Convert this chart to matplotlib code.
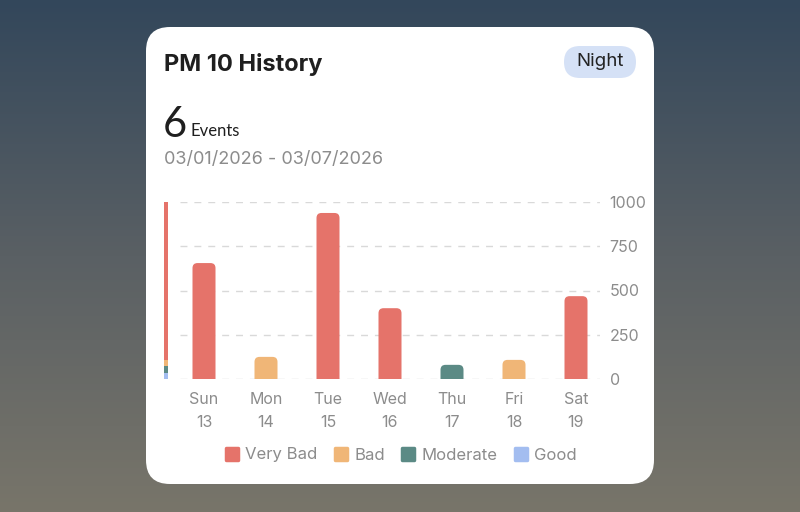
import numpy as np
import matplotlib
matplotlib.use("Agg")
from matplotlib import pyplot as plt
from matplotlib.patches import FancyBboxPatch
from matplotlib.lines import Line2D
from matplotlib.markers import MarkerStyle
from matplotlib.colors import LinearSegmentedColormap

# data
days = ["Sun", "Mon", "Tue", "Wed", "Thu", "Fri", "Sat"]
dates = ["13", "14", "15", "16", "17", "18", "19"]
values = [655, 125, 938, 400, 80, 108, 468]
levels = ["Very Bad", "Bad", "Very Bad", "Very Bad", "Moderate", "Bad", "Very Bad"]

# thin scale bar on the left (stacked from bottom)
scale_levels = ["Good", "Moderate", "Bad", "Very Bad"]
scale_values = [35, 40, 35, 890]

legend_order = ["Very Bad", "Bad", "Moderate", "Good"]
colors = {"Very Bad": "#e5736a", "Bad": "#f0b677", "Moderate": "#5b8a85", "Good": "#a3bdf0"}

yticks = [0, 250, 500, 750, 1000]
title = "PM 10 History"
count = "6"
date_range = "03/01/2026 - 03/07/2026"

W, H = 800, 512
fig = plt.figure(figsize=(8, 5.12), dpi=100)

# background gradient
bg = fig.add_axes([0, 0, 1, 1])
bg.set_axis_off()
cmap = LinearSegmentedColormap.from_list("bg", ["#33475b", "#5a6064", "#78756a"])
bg.imshow(np.linspace(0, 1, 256).reshape(-1, 1), aspect="auto", cmap=cmap,
          extent=[0, 1, 0, 1], origin="upper")
bg.set_xlim(0, 1)
bg.set_ylim(0, 1)

def fx(px):
    return px / W

def fy(py):
    return 1 - py / H

# white card
card = FancyBboxPatch((fx(146), fy(484)), fx(654) - fx(146), fy(27) - fy(484),
                      boxstyle="round,pad=0,rounding_size=0.03",
                      mutation_aspect=W / H,
                      transform=fig.transFigure, facecolor="white", edgecolor="none", zorder=2)
bg.add_patch(card)

# "Night" pill
pill = FancyBboxPatch((fx(564), fy(78)), fx(636) - fx(564), fy(46) - fy(78),
                      boxstyle="round,pad=0,rounding_size=0.02",
                      mutation_aspect=W / H,
                      transform=fig.transFigure, facecolor="#d5e1f6", edgecolor="none", zorder=3)
bg.add_patch(pill)
fig.text(fx(600), fy(62), "Night", fontsize=13.5, family="Inter", color="#222222",
         va="center", ha="center")

# header texts
fig.text(fx(164), fy(64), title, fontsize=17, fontweight="bold", family="Inter",
         color="#1f1f1f", va="center", ha="left")
fig.text(fx(163), fy(125), count, fontsize=30, family="Lato", color="#1f1f1f",
         va="center", ha="left")
fig.text(fx(191), fy(131), "Events", fontsize=12, family="Lato", color="#1f1f1f",
         va="center", ha="left")
fig.text(fx(164), fy(159), date_range, fontsize=13, family="Inter", color="#8c8c8c",
         va="center", ha="left")

# chart axes: x=0 at 204px, 62px per day; y 0 at 379px, 1000 at 202px
x0px, step = 204, 62
left_px, right_px = 155, 600
ax = fig.add_axes([fx(left_px), fy(379), fx(right_px - left_px), fy(202) - fy(379)])
ax.set_xlim((left_px - x0px) / step, (right_px - x0px) / step)
ax.set_ylim(0, 1000)
ax.patch.set_alpha(0)
for s in ax.spines.values():
    s.set_visible(False)

ypp = 1000 / 177.0
aspect = ypp * step

x = np.arange(len(days))
ax.hlines(yticks, (180 - x0px) / step, (right_px - x0px) / step,
          colors="#d9d9d9", linestyles=(0, (5, 5)), linewidth=1, zorder=0)

# bars with rounded tops; the rounded bottom sits below y=0 and is clipped away
bw = 23 / step
r = 5 / step
below = 8 * ypp
for xi, v, lv in zip(x, values, levels):
    ax.add_patch(FancyBboxPatch((xi - bw / 2, -below), bw, v + below,
                                boxstyle="round,pad=0,rounding_size=%f" % r,
                                mutation_aspect=aspect, fc=colors[lv], ec="none", zorder=3))

# thin scale bar
sx = (166 - x0px) / step
sw = 4 / step
bottom = 0
for lv, v in zip(scale_levels, scale_values):
    ax.bar(sx, v, width=sw, bottom=bottom, color=colors[lv], zorder=3)
    bottom += v

ax.set_xticks(x)
ax.set_xticklabels([d + "\n" + n for d, n in zip(days, dates)], family="Inter",
                   fontsize=11.5, color="#8c8c8c", linespacing=1.7)
ax.tick_params(axis="x", length=0, pad=9)
ax.yaxis.tick_right()
ax.set_yticks(yticks)
ax.set_yticklabels([str(t) for t in yticks], family="Inter", fontsize=11.5, color="#8c8c8c")
ax.tick_params(axis="y", length=0, pad=7)

handles = [Line2D([], [], marker=MarkerStyle("s", joinstyle="round"), linestyle="",
                  markersize=8, markeredgewidth=2.5,
                  markerfacecolor=colors[k], markeredgecolor=colors[k]) for k in legend_order]
leg = fig.legend(handles, legend_order, loc="center", bbox_to_anchor=(0.5, fy(455)),
                 ncol=4, frameon=False, handletextpad=0.3, columnspacing=0.9,
                 handlelength=1.0, prop={"family": "Inter", "size": 12})
for t in leg.get_texts():
    t.set_color("#8c8c8c")

fig.savefig("out.png", dpi=100)
